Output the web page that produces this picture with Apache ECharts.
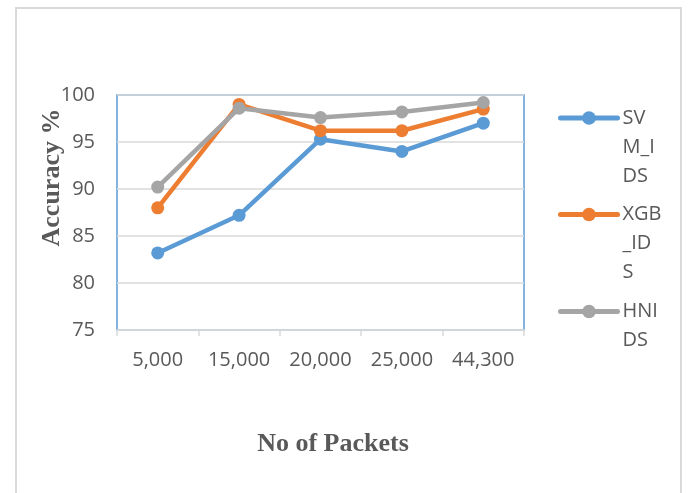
<!DOCTYPE html>
<html>
<head>
<meta charset="utf-8">
<script src="https://cdn.jsdelivr.net/npm/echarts@6/dist/echarts.min.js"></script>
<style>
  html, body { margin: 0; padding: 0; background: #fff; }
  #chart { width: 688px; height: 493px; }
</style>
</head>
<body>
<div id="chart"></div>
<script>
const packets = ['5,000', '15,000', '20,000', '25,000', '44,300'];
const svmIds = [83.2, 87.2, 95.3, 94.0, 97.0];
const xgbIds = [88.0, 99.0, 96.2, 96.2, 98.5];
const hnids = [90.2, 98.6, 97.6, 98.2, 99.2];
const seriesNames = ['SVM_IDS', 'XGB_IDS', 'HNIDS'];
// legend text is wrapped the way the narrow legend box wraps it
const legendText = ['SV\nM_I\nDS', 'XGB\n_ID\nS', 'HNI\nDS'];
const colors = ['#5b9bd5', '#ed7d31', '#a5a5a5'];

const labelFont = '"Open Sans", "Noto Sans", sans-serif';
const titleFont = '"Liberation Serif", "DejaVu Serif", serif';
const legendTops = [45.5, 142, 268];

const myChart = echarts.init(document.getElementById('chart'));

function lineSeries(i, data) {
  return {
    name: seriesNames[i],
    type: 'line',
    data: data,
    symbol: 'circle',
    symbolSize: 13,
    color: colors[i],
    lineStyle: { width: 4.5, color: colors[i], cap: 'round', join: 'round' },
    itemStyle: { color: colors[i] },
    emphasis: { disabled: true }
  };
}

// one legend per item; leading blank lines keep the icon on the first text line
const legends = seriesNames.map(function (name, i) {
  const lines = legendText[i].split('\n').length;
  const lead = new Array(lines).join('\n');
  return {
    orient: 'vertical',
    left: 558,
    top: legendTops[i],
    padding: 0,
    itemWidth: 57,
    itemHeight: 17,
    formatter: function () {
      return lead + legendText[i];
    },
    lineStyle: { width: 5, cap: 'round' },
    textStyle: {
      fontFamily: labelFont,
      fontSize: 20,
      color: '#595959',
      lineHeight: 29
    },
    data: [name]
  };
});

myChart.setOption({
  animation: false,
  graphic: [{
    type: 'rect',
    shape: { x: 16, y: 8, width: 665, height: 500 },
    style: { fill: 'none', stroke: '#d9d9d9', lineWidth: 2 },
    silent: true
  }],
  grid: {
    left: 117,
    top: 95,
    right: 164,
    bottom: 163,
    show: true,
    borderColor: '#5b9bd5',
    borderWidth: 1.5
  },
  legend: legends,
  xAxis: {
    type: 'category',
    data: packets,
    boundaryGap: true,
    name: 'No of Packets',
    nameLocation: 'middle',
    nameGap: 101,
    nameMoveOverlap: false,
    nameTextStyle: {
      fontFamily: titleFont,
      fontWeight: 'bold',
      fontSize: 26,
      color: '#595959',
      padding: [0, 0, 0, 25]
    },
    axisLine: { show: true, lineStyle: { color: '#d9d9d9', width: 1.5 } },
    axisTick: { show: true, alignWithLabel: false, length: 6, lineStyle: { color: '#d9d9d9', width: 1.5 } },
    axisLabel: {
      fontFamily: labelFont,
      fontSize: 20,
      color: '#595959',
      margin: 20
    }
  },
  yAxis: {
    type: 'value',
    min: 75,
    max: 100,
    interval: 5,
    name: 'Accuracy %',
    nameLocation: 'middle',
    nameGap: 52,
    nameMoveOverlap: false,
    nameTextStyle: {
      fontFamily: titleFont,
      fontWeight: 'bold',
      fontSize: 26,
      color: '#595959',
      padding: [0, 0, 0, 70]
    },
    axisLine: { show: false },
    axisTick: { show: false },
    splitLine: { lineStyle: { color: '#d9d9d9', width: 1.5 } },
    axisLabel: {
      fontFamily: labelFont,
      fontSize: 20,
      color: '#595959',
      margin: 22
    }
  },
  series: [
    lineSeries(0, svmIds),
    lineSeries(1, xgbIds),
    lineSeries(2, hnids)
  ]
});
</script>
</body>
</html>
